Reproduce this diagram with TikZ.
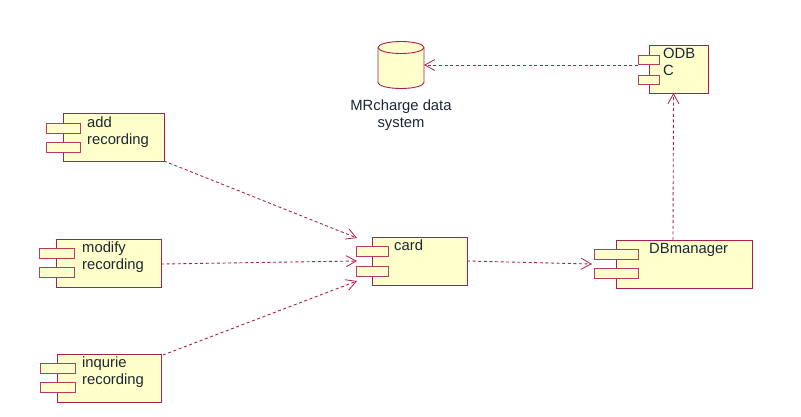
\documentclass[tikz,border=0pt]{standalone}
\usepackage{fontspec}
\setmainfont{Liberation Sans}
\usetikzlibrary{arrows.meta,positioning}
\definecolor{umlline}{HTML}{A8204E}
\definecolor{umltab}{HTML}{B83A64}
\definecolor{umlfill}{HTML}{FFFFCC}
\definecolor{umltext}{HTML}{1C2733}
\tikzset{
  x=1pt,y=-1pt,
  compbody/.style={draw=umlline,fill=umlfill,line width=0.9pt,anchor=north west,inner sep=0pt,outer sep=0pt},
  comptab/.style={draw=umltab,fill=umlfill,line width=1pt,anchor=north west,inner sep=0pt,outer sep=0pt},
  complabel/.style={anchor=base west,inner sep=0pt,align=left,text=umltext,font=\fontsize{14.8}{17}\selectfont},
  dep/.style={draw=umlline,line width=0.9pt,dash pattern=on 3pt off 2.6pt,-{Straight Barb[length=10pt,width=11pt,line width=0.8pt]}},
  cylline/.style={draw=umlline,line width=0.9pt},
}
\newcommand{\umlcomp}[9]{%
  % name, body x, y, width, tab x, tab width, tab1 y, tab2 y, tab height
  \node[compbody,minimum width=#4pt,minimum height=48pt] (#1) at (#2,#3) {};
  \node[comptab,minimum width=#6pt,minimum height=#9pt] (#1t1) at (#5,#7) {};
  \node[comptab,minimum width=#6pt,minimum height=#9pt] (#1t2) at (#5,#8) {};
}
\begin{document}
\begin{tikzpicture}
\useasboundingbox (0,0) rectangle (801,416);
\umlcomp{add}{63}{113}{101}{46}{34}{123}{142}{10}
\umlcomp{modify}{56}{239}{105}{39}{35}{248}{267}{10}
\umlcomp{inq}{57}{354}{104}{40}{35}{363}{382}{10}
\umlcomp{card}{372}{237}{95}{356}{32}{246}{266}{10}
\umlcomp{db}{616}{240}{136}{594}{44}{249}{268}{10}
\umlcomp{odb}{649}{45}{59}{638}{21}{55}{75}{9}
\node[complabel] (addl) at (87,144) {add\\recording};
\node[complabel] (modl) at (82,269) {modify\\recording};
\node[complabel] (inql) at (82,384) {inqurie\\recording};
\node[complabel] (cardl) at (394,250) {card};
\node[complabel] (dbl) at (649,253) {DBmanager};
\node[complabel] (odbl) at (663,75) {ODB\\C};
% cylinder: node gives the connector a name, the outline is drawn from its anchors
\node[minimum width=46pt,minimum height=47pt,inner sep=0pt,outer sep=0pt] (mr) at (401,65) {};
\path[cylline,fill=umlfill] ([yshift=-6pt]mr.north west) -- ([yshift=6pt]mr.south west)
  arc[start angle=180,end angle=360,x radius=23pt,y radius=6pt]
  -- ([yshift=-6pt]mr.north east)
  arc[start angle=0,end angle=180,x radius=23pt,y radius=6pt] -- cycle;
\path[cylline] ([yshift=-6pt]mr.north west)
  arc[start angle=180,end angle=360,x radius=23pt,y radius=6pt];
\node[complabel,anchor=base,align=center] (mrl) at (401,127) {MRcharge data\\system};
\coordinate (cin1) at (357,238);
\coordinate (cin2) at (357,261);
\coordinate (cin3) at (357,281);
\draw[dep] (add.south east) -- (cin1);
\draw[dep] ([yshift=-1pt]modify.east) -- (cin2);
\draw[dep] ([xshift=2pt,yshift=-1pt]inq.north east) -- (cin3);
\draw[dep] (card.east) -- ([xshift=-2pt]db.west -| dbt1.west);
\draw[dep] ([xshift=-11pt]db.north) -- ([xshift=-5pt]odb.south);
\draw[dep] ([yshift=-1pt]odbt1.south west) -- (mr.east);
\end{tikzpicture}
\end{document}
